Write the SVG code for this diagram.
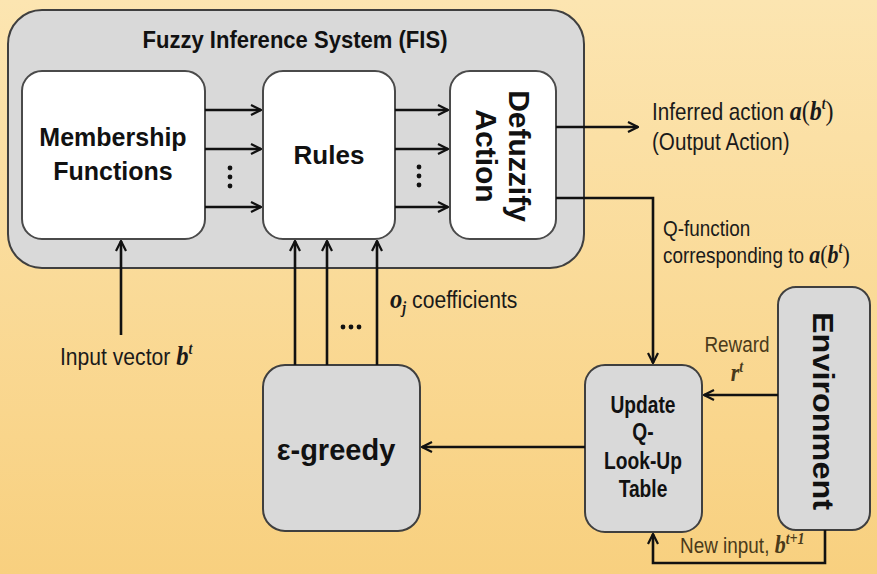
<svg xmlns="http://www.w3.org/2000/svg" width="877" height="574" viewBox="0 0 877 574">
  <defs>
    <linearGradient id="bg" x1="0" y1="0" x2="0" y2="1">
      <stop offset="0" stop-color="#FCE5B1"/>
      <stop offset="1" stop-color="#F8D07F"/>
    </linearGradient>
    <marker id="arr" viewBox="0 0 12 12" refX="11" refY="6" markerWidth="12" markerHeight="12" markerUnits="userSpaceOnUse" orient="auto">
      <path d="M1,1 L11,6 L1,11" fill="none" stroke="#111" stroke-width="2.2"/>
    </marker>
    <style>
      .box { fill: #D9D9D9; stroke: #3f3f3f; stroke-width: 2; }
      .inner { fill: #FFFFFF; stroke: #4a4a4a; stroke-width: 2; }
      .arrow { fill: none; stroke: #111; stroke-width: 2.6; marker-end: url(#arr); }
      .big { font-family: "Liberation Sans", Arial, sans-serif; font-weight: bold; fill: #111; text-anchor: middle; }
      .lbl { font-family: "Liberation Sans", Arial, sans-serif; font-size: 24px; fill: #1a1a1a; }
      .sm { font-family: "Liberation Sans", Arial, sans-serif; font-size: 21.5px; fill: #1a1a1a; }
      .brown { fill: #4a3a1a; }
      .m { font-family: "Liberation Serif", "Times New Roman", serif; font-style: italic; font-weight: bold; }
      .mp { font-family: "Liberation Serif", "Times New Roman", serif; }
      .lbl .m, .lbl .mp { font-size: 28px; }
      .sm .m, .sm .mp { font-size: 25px; }
      .lbl .sup, .sm .sup { font-size: 16px; }
      .dot { fill: #111; }
    </style>
  </defs>

  <!-- background -->
  <rect x="0" y="0" width="877" height="574" fill="url(#bg)"/>

  <!-- Fuzzy Inference System container -->
  <g id="fis">
    <rect class="box" x="8" y="10" width="576" height="258" rx="34"/>
    <text class="big" x="295" y="48" font-size="24" textLength="305" lengthAdjust="spacingAndGlyphs">Fuzzy Inference System (FIS)</text>
  </g>

  <g id="membership">
    <rect class="inner" x="22" y="71" width="183" height="168" rx="20"/>
    <text class="big" x="113" y="146" font-size="25">Membership</text>
    <text class="big" x="113" y="180" font-size="25">Functions</text>
  </g>

  <g id="rules">
    <rect class="inner" x="263" y="71" width="132" height="168" rx="20"/>
    <text class="big" x="329" y="164" font-size="26">Rules</text>
  </g>

  <g id="defuzzify">
    <rect class="inner" x="450" y="71" width="106" height="168" rx="20"/>
    <text class="big" font-size="30" transform="translate(509,156) rotate(90)">Defuzzify</text>
    <text class="big" font-size="30" transform="translate(476,156) rotate(90)">Action</text>
  </g>

  <g id="epsilon-greedy">
    <rect class="box" x="263" y="365" width="157" height="166" rx="22"/>
    <text class="big" x="336" y="460" font-size="29">ε-greedy</text>
  </g>

  <g id="update-q">
    <rect class="box" x="585" y="365" width="117" height="167" rx="20"/>
    <g class="big" font-size="24">
      <text transform="translate(643,413) scale(0.8,1)">Update</text>
      <text transform="translate(643,440) scale(0.8,1)">Q-</text>
      <text transform="translate(643,469) scale(0.8,1)">Look-Up</text>
      <text transform="translate(643,497) scale(0.8,1)">Table</text>
    </g>
  </g>

  <g id="environment">
    <rect class="box" x="778" y="287" width="92" height="243" rx="18"/>
    <text class="big" font-size="30" transform="translate(813,411) rotate(90)" textLength="198" lengthAdjust="spacingAndGlyphs">Environment</text>
  </g>

  <!-- connectors -->
  <g id="connectors">
    <!-- membership functions to rules -->
    <line class="arrow" x1="205" y1="110" x2="261" y2="110"/>
    <line class="arrow" x1="205" y1="149" x2="261" y2="149"/>
    <line class="arrow" x1="205" y1="207" x2="261" y2="207"/>
    <!-- rules to defuzzifier -->
    <line class="arrow" x1="395" y1="110" x2="448" y2="110"/>
    <line class="arrow" x1="395" y1="149" x2="448" y2="149"/>
    <line class="arrow" x1="395" y1="207" x2="448" y2="207"/>
    <!-- output action -->
    <line class="arrow" x1="556" y1="127" x2="638" y2="127"/>
    <!-- Q-function path down to the update block -->
    <polyline class="arrow" points="556,198 653,198 653,363"/>
    <!-- input vector -->
    <line class="arrow" x1="121" y1="335" x2="121" y2="241"/>
    <!-- coefficient lines from epsilon-greedy into rules -->
    <line class="arrow" x1="295" y1="365" x2="295" y2="241"/>
    <line class="arrow" x1="327" y1="365" x2="327" y2="241"/>
    <line class="arrow" x1="377" y1="365" x2="377" y2="241"/>
    <!-- update to epsilon-greedy -->
    <line class="arrow" x1="585" y1="447" x2="422" y2="447"/>
    <!-- reward -->
    <line class="arrow" x1="778" y1="395" x2="704" y2="395"/>
    <!-- new input loop -->
    <polyline class="arrow" points="825,530 825,563 653,563 653,534"/>
  </g>

  <!-- vertical and horizontal ellipses -->
  <g id="ellipses">
    <circle class="dot" cx="230" cy="168" r="2.4"/>
    <circle class="dot" cx="230" cy="177" r="2.4"/>
    <circle class="dot" cx="230" cy="186" r="2.4"/>
    <circle class="dot" cx="419" cy="167" r="2.4"/>
    <circle class="dot" cx="419" cy="176" r="2.4"/>
    <circle class="dot" cx="419" cy="185" r="2.4"/>
    <circle class="dot" cx="343" cy="327" r="2.4"/>
    <circle class="dot" cx="351" cy="327" r="2.4"/>
    <circle class="dot" cx="359" cy="327" r="2.4"/>
  </g>

  <!-- labels (slightly condensed) -->
  <g id="labels">
    <text class="lbl" transform="translate(652,120) scale(0.86,1)">Inferred action <tspan class="m">a</tspan><tspan class="mp">(</tspan><tspan class="m">b</tspan><tspan class="m sup" dy="-11">t</tspan><tspan class="mp" dy="11">)</tspan></text>
    <text class="lbl" transform="translate(652,150) scale(0.86,1)">(Output Action)</text>
    <text class="sm" transform="translate(663,236) scale(0.88,1)">Q-function</text>
    <text class="sm" transform="translate(663,263) scale(0.88,1)">corresponding to <tspan class="m">a</tspan><tspan class="mp">(</tspan><tspan class="m">b</tspan><tspan class="m sup" dy="-10">t</tspan><tspan class="mp" dy="10">)</tspan></text>
    <text class="lbl" transform="translate(390,308) scale(0.88,1)"><tspan class="m" font-weight="normal">o</tspan><tspan class="m sup" font-weight="normal" dy="5">j</tspan><tspan dy="-5"> coefficients</tspan></text>
    <text class="lbl" transform="translate(60,365) scale(0.88,1)">Input vector <tspan class="m">b</tspan><tspan class="m sup" dy="-11">t</tspan></text>
    <text class="sm brown" text-anchor="middle" transform="translate(737,352) scale(0.88,1)">Reward</text>
    <text class="sm brown" text-anchor="middle" transform="translate(737,381) scale(0.88,1)"><tspan class="m" font-weight="normal">r</tspan><tspan class="m sup" font-weight="normal" dy="-9">t</tspan></text>
    <text class="sm brown" transform="translate(680,553) scale(0.88,1)">New input, <tspan class="m">b</tspan><tspan class="m sup" dy="-9">t+1</tspan></text>
  </g>
</svg>
